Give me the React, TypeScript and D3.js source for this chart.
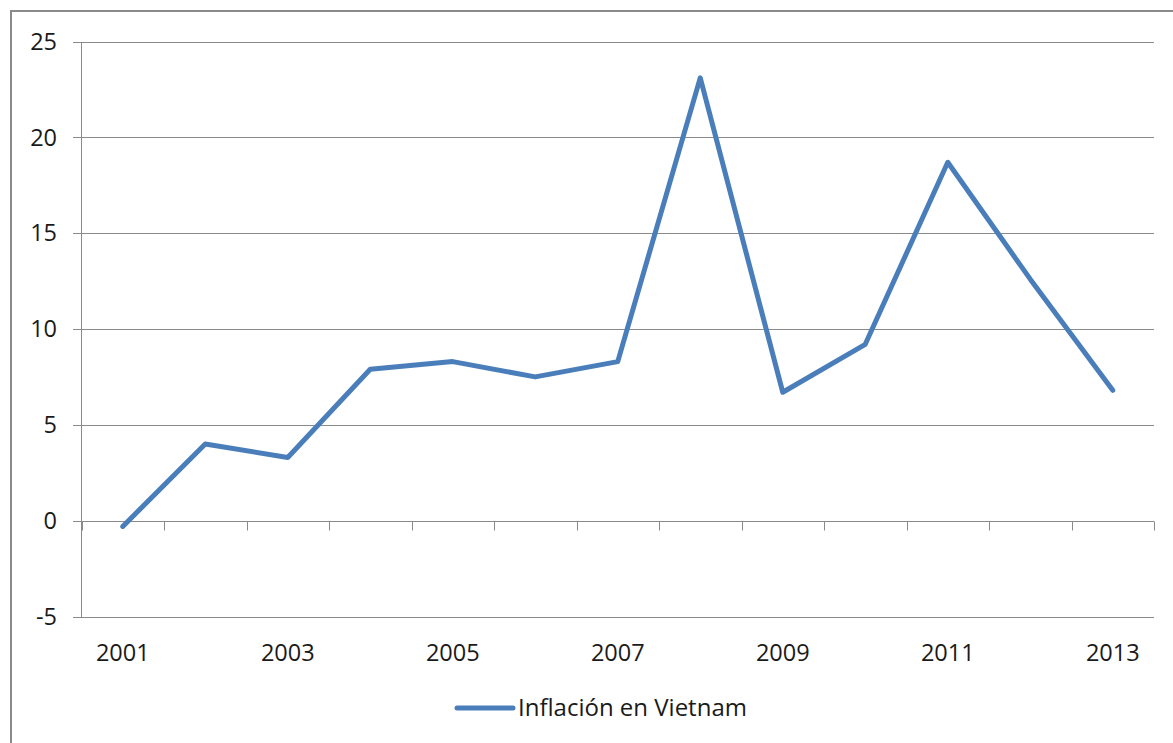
import * as d3 from "d3";

const years = ["2001", "2002", "2003", "2004", "2005", "2006", "2007", "2008", "2009", "2010", "2011", "2012", "2013"];
const inflation = [-0.3, 4.0, 3.3, 7.9, 8.3, 7.5, 8.3, 23.1, 6.7, 9.2, 18.7, 12.6, 6.8];
const yTicks = [-5, 0, 5, 10, 15, 20, 25];
const labelYears = ["2001", "2003", "2005", "2007", "2009", "2011", "2013"];
const seriesName = "Inflación en Vietnam";

const W = 1173;
const H = 743;
const FONT = "'Open Sans', 'Noto Sans', sans-serif";
const GRID = "#8a8a8a";
const BLUE = "#4a7ebb";

export default function App() {
  const x = d3.scaleBand<string>().domain(years).range([81.5, 1154]);
  const y = d3.scaleLinear().domain([-5, 25]).range([616.5, 41.5]);
  const crisp = (v: number) => Math.round(v) + 0.5;

  const line = d3
    .line<number>()
    .x((_, i) => (x(years[i]) ?? 0) + x.bandwidth() / 2)
    .y((d) => y(d));

  const y0 = crisp(y(0));
  const edges = [...years.map((yr) => x(yr) ?? 0), 1154];

  return (
    <svg
      width={W}
      height={H}
      style={{ position: "absolute", left: 0, top: 0, background: "#fff" }}
    >
      {/* chart frame, cut off at the right and bottom */}
      <rect x={11} y={11} width={1300} height={900} fill="#fff" stroke="#8a8a8a" strokeWidth={2} />

      {/* horizontal gridlines + y labels */}
      {yTicks.map((t) => (
        <g key={t}>
          <line x1={73} x2={1154} y1={crisp(y(t))} y2={crisp(y(t))} stroke={GRID} strokeWidth={1} />
          <text
            x={57}
            y={y(t)}
            dy="0.35em"
            textAnchor="end"
            fontFamily={FONT}
            fontSize={23.5}
            fill="#1a1a1a"
          >
            {t}
          </text>
        </g>
      ))}

      {/* y axis */}
      <line x1={81.5} x2={81.5} y1={crisp(y(25))} y2={crisp(y(-5))} stroke={GRID} strokeWidth={1} />

      {/* category tick marks on the zero line */}
      {edges.map((ex, i) => (
        <line key={i} x1={crisp(ex)} x2={crisp(ex)} y1={y0} y2={y0 + 9} stroke={GRID} strokeWidth={1} />
      ))}

      {/* x labels */}
      {labelYears.map((yr) => (
        <text
          key={yr}
          x={(x(yr) ?? 0) + x.bandwidth() / 2}
          y={661}
          textAnchor="middle"
          fontFamily={FONT}
          fontSize={23.5}
          fill="#1a1a1a"
        >
          {yr}
        </text>
      ))}

      {/* series */}
      <path
        d={line(inflation) ?? ""}
        fill="none"
        stroke={BLUE}
        strokeWidth={5}
        strokeLinejoin="round"
        strokeLinecap="round"
      />

      {/* legend */}
      <line x1={457} x2={513} y1={708} y2={708} stroke={BLUE} strokeWidth={5} strokeLinecap="round" />
      <text x={518} y={716} fontFamily={FONT} fontSize={24} fill="#1a1a1a">
        {seriesName}
      </text>
    </svg>
  );
}
